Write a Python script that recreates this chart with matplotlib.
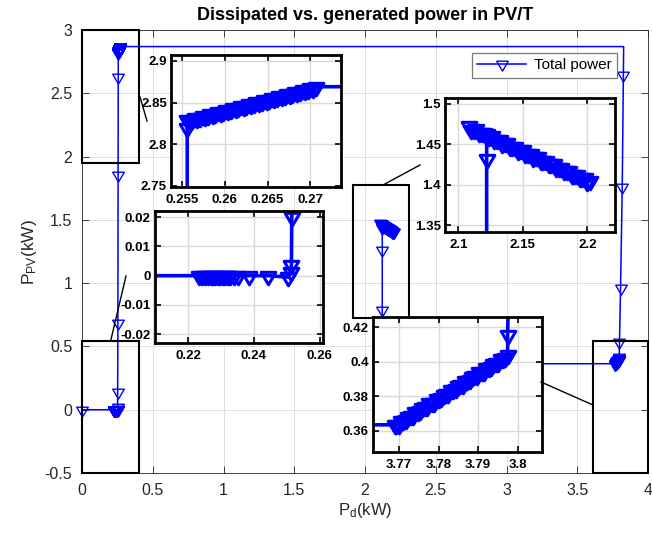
import matplotlib
matplotlib.use("Agg")
import matplotlib.pyplot as plt
from matplotlib.lines import Line2D
from matplotlib.patches import Rectangle
from matplotlib.path import Path
from matplotlib.markers import MarkerStyle

plt.rcParams['font.family'] = ['Liberation Sans', 'DejaVu Sans']
plt.rcParams['mathtext.default'] = 'regular'

# ---- operating-point trajectory: dissipated power Pd (kW) vs PV power Ppv (kW) ----
# start-up point and idle plateau at Ppv = 0
x_idle = [0.0, 0.2233, 0.2243, 0.2251, 0.2260, 0.2268, 0.2275, 0.2282, 0.2290, 0.2297,
          0.2305, 0.2312, 0.2320, 0.2327, 0.2340, 0.2352, 0.2386, 0.2444, 0.2505]
y_idle = [0.0, 0.0, 0.0, 0.0, 0.0, 0.0, 0.0, 0.0, 0.0, 0.0,
          0.0, 0.0, 0.0, 0.0, 0.0, 0.0, 0.0, 0.0, -0.0005]
# PV power ramp-up
x_rise = [0.2512, 0.2514, 0.2515, 0.2520, 0.2535, 0.2548, 0.2556, 0.2556]
y_rise = [0.0011, 0.0038, 0.0200, 0.143, 0.683, 1.855, 2.631, 2.819]
# first steady cluster (high PV, low dissipation)
x_top = [0.2556, 0.2559, 0.2562, 0.2565, 0.2568, 0.2571, 0.2574, 0.2577, 0.2580, 0.2583,
         0.2586, 0.2589, 0.2592, 0.2595, 0.2598, 0.2601, 0.2604, 0.2607, 0.2610, 0.2613,
         0.2616, 0.2619, 0.2622, 0.2625, 0.2628, 0.2631, 0.2634, 0.2637, 0.2640, 0.2643,
         0.2646, 0.2649, 0.2652, 0.2655, 0.2658, 0.2661, 0.2664, 0.2667, 0.2670, 0.2673,
         0.2676, 0.2679, 0.2682, 0.2685, 0.2688, 0.2691, 0.2694, 0.2697, 0.2700, 0.2703,
         0.2707]
y_top = [2.8290, 2.8278, 2.8296, 2.8314, 2.8302, 2.8320, 2.8338, 2.8326, 2.8344, 2.8362,
         2.8350, 2.8367, 2.8385, 2.8373, 2.8391, 2.8409, 2.8397, 2.8415, 2.8433, 2.8421,
         2.8439, 2.8457, 2.8445, 2.8463, 2.8481, 2.8469, 2.8487, 2.8505, 2.8493, 2.8511,
         2.8529, 2.8516, 2.8534, 2.8552, 2.8540, 2.8558, 2.8576, 2.8564, 2.8582, 2.8600,
         2.8588, 2.8606, 2.8624, 2.8612, 2.8630, 2.8648, 2.8636, 2.8654, 2.8672, 2.8660,
         2.8690]
# switch to high dissipation (corner point, no marker)
x_jump1 = [3.828]
y_jump1 = [2.869]
x_fall = [3.826, 3.818, 3.806, 3.7985, 3.7975]
y_fall = [2.645, 1.762, 0.960, 0.538, 0.4155]
# second steady cluster (low PV, high dissipation)
x_low = [3.7975, 3.7969, 3.7963, 3.7957, 3.7951, 3.7945, 3.7939, 3.7933, 3.7927, 3.7921,
         3.7915, 3.7909, 3.7903, 3.7897, 3.7891, 3.7885, 3.7879, 3.7873, 3.7867, 3.7861,
         3.7855, 3.7849, 3.7843, 3.7837, 3.7831, 3.7825, 3.7819, 3.7813, 3.7807, 3.7801,
         3.7795, 3.7789, 3.7783, 3.7777, 3.7771, 3.7765, 3.7759, 3.7753, 3.7747, 3.7741,
         3.7735, 3.7729, 3.7723, 3.7717, 3.7711, 3.7705, 3.7699, 3.7693, 3.7690]
y_low = [0.4040, 0.4019, 0.4017, 0.4014, 0.3994, 0.3991, 0.3989, 0.3968, 0.3966, 0.3963,
         0.3943, 0.3940, 0.3938, 0.3917, 0.3915, 0.3912, 0.3892, 0.3889, 0.3887, 0.3866,
         0.3864, 0.3861, 0.3841, 0.3838, 0.3836, 0.3815, 0.3813, 0.3810, 0.3789, 0.3787,
         0.3784, 0.3764, 0.3761, 0.3759, 0.3738, 0.3736, 0.3733, 0.3713, 0.3710, 0.3708,
         0.3687, 0.3685, 0.3682, 0.3662, 0.3659, 0.3657, 0.3636, 0.3634, 0.3635]
# switch to intermediate dissipation (corner point, no marker)
x_jump2 = [2.122]
y_jump2 = [0.3633]
x_recover = [2.122, 2.122, 2.122, 2.122]
y_recover = [0.788, 1.262, 1.432, 1.462]
# final cluster
x_mid = [2.108, 2.110, 2.112, 2.114, 2.116, 2.118, 2.120, 2.122, 2.124, 2.126,
         2.128, 2.130, 2.132, 2.134, 2.136, 2.138, 2.140, 2.142, 2.144, 2.146,
         2.148, 2.150, 2.152, 2.154, 2.156, 2.158, 2.160, 2.162, 2.164, 2.166,
         2.168, 2.170, 2.172, 2.174, 2.176, 2.178, 2.180, 2.182, 2.184, 2.186,
         2.188, 2.190, 2.192, 2.194, 2.196, 2.198, 2.200, 2.202]
y_mid = [1.4725, 1.4681, 1.4681, 1.4682, 1.4638, 1.4638, 1.4639, 1.4594, 1.4595, 1.4596,
         1.4551, 1.4552, 1.4553, 1.4508, 1.4509, 1.4510, 1.4465, 1.4466, 1.4467, 1.4422,
         1.4423, 1.4423, 1.4379, 1.4380, 1.4380, 1.4336, 1.4337, 1.4337, 1.4293, 1.4294,
         1.4294, 1.4250, 1.4251, 1.4251, 1.4207, 1.4207, 1.4208, 1.4164, 1.4164, 1.4165,
         1.4121, 1.4121, 1.4122, 1.4078, 1.4078, 1.4079, 1.4035, 1.4050]

segments = [(x_idle, y_idle, True), (x_rise, y_rise, True), (x_top, y_top, True),
            (x_jump1, y_jump1, False), (x_fall, y_fall, True), (x_low, y_low, True),
            (x_jump2, y_jump2, False), (x_recover, y_recover, True), (x_mid, y_mid, True)]

pd_kw, ppv_kw, marker_idx = [], [], []
for xs, ys, marked in segments:
    for x, y in zip(xs, ys):
        if marked:
            marker_idx.append(len(pd_kw))
        pd_kw.append(x)
        ppv_kw.append(y)

# axis ticks
main_xticks = [0, 0.5, 1, 1.5, 2, 2.5, 3, 3.5, 4]
main_xlabels = ['0', '0.5', '1', '1.5', '2', '2.5', '3', '3.5', '4']
main_yticks = [-0.5, 0, 0.5, 1, 1.5, 2, 2.5, 3]
main_ylabels = ['-0.5', '0', '0.5', '1', '1.5', '2', '2.5', '3']

# zoom windows: (xlim, ylim, xticks, xticklabels, yticks, yticklabels)
zoom_top = ((0.2537, 0.2736), (2.7488, 2.907),
            [0.255, 0.26, 0.265, 0.27], ['0.255', '0.26', '0.265', '0.27'],
            [2.75, 2.8, 2.85, 2.9], ['2.75', '2.8', '2.85', '2.9'])
zoom_idle = ((0.2099, 0.261), (-0.023, 0.0221),
             [0.22, 0.24, 0.26], ['0.22', '0.24', '0.26'],
             [-0.02, -0.01, 0, 0.01, 0.02], ['-0.02', '-0.01', '0', '0.01', '0.02'])
zoom_mid = ((2.0897, 2.2215), (1.3417, 1.507),
            [2.1, 2.15, 2.2], ['2.1', '2.15', '2.2'],
            [1.35, 1.4, 1.45, 1.5], ['1.35', '1.4', '1.45', '1.5'])
zoom_low = ((3.7634, 3.8062), (0.3478, 0.4258),
            [3.77, 3.78, 3.79, 3.8], ['3.77', '3.78', '3.79', '3.8'],
            [0.36, 0.38, 0.4, 0.42], ['0.36', '0.38', '0.4', '0.42'])

# regions highlighted on the main axes: (x0, y0, x1, y1)
box_top = (0.0, 1.947, 0.4, 3.0)
box_idle = (0.0, -0.5, 0.4, 0.546)
box_mid = (1.915, 0.725, 2.311, 1.776)
box_low = (3.61, -0.5, 4.0, 0.545)

W, H = 652, 535
fig = plt.figure(figsize=(W / 100, H / 100), dpi=100)
fig.patch.set_facecolor('white')

# downward triangle centred on its centroid
tri_path = Path([(-0.88, 0.5), (0.88, 0.5), (0.0, -1.0), (-0.88, 0.5)],
                [Path.MOVETO, Path.LINETO, Path.LINETO, Path.CLOSEPOLY])
tri = MarkerStyle(tri_path, joinstyle='miter')

BLUE = (0, 0, 1)
DARK = '#262626'


def px_axes(left, top, right, bottom, **kw):
    return fig.add_axes([left / W, (H - bottom) / H, (right - left) / W, (bottom - top) / H], **kw)


def draw_curve(ax, lw, ms, mew, clip=True):
    return ax.plot(pd_kw, ppv_kw, color=BLUE, lw=lw, marker=tri, ms=ms, mfc='none',
                   mec=BLUE, mew=mew, markevery=marker_idx, label='Total power',
                   clip_on=clip)[0]


# ---- main axes ----
ax = px_axes(82, 30, 648, 473)
draw_curve(ax, 1.1, 9.5, 1.0, clip=False)
ax.set_xlim(0, 4)
ax.set_ylim(-0.5, 3)
ax.set_xticks(main_xticks)
ax.set_xticklabels(main_xlabels)
ax.set_yticks(main_yticks)
ax.set_yticklabels(main_ylabels)
ax.grid(True, color='#dedede', lw=0.7)
ax.set_axisbelow(True)
ax.tick_params(direction='in', length=5, width=0.6, color=DARK, labelsize=11.5,
               labelcolor=DARK, top=True, right=True, pad=7)
for s in ax.spines.values():
    s.set_color(DARK)
    s.set_linewidth(0.6)
ax.set_xlabel('P$_{d}$(kW)', fontsize=12, color=DARK, labelpad=2)
ax.set_ylabel('P$_{PV}$(kW)', fontsize=12.5, color=DARK, labelpad=4)
ax.set_title('Dissipated vs. generated power in PV/T', fontsize=13, fontweight='bold', pad=7)

for x0, y0, x1, y1 in (box_top, box_idle, box_mid, box_low):
    ax.add_patch(Rectangle((x0, y0), x1 - x0, y1 - y0, fill=False, ec='black', lw=1.5,
                           zorder=5, clip_on=False))

leg = ax.legend(loc='upper right', bbox_to_anchor=(0.945, 0.948), borderaxespad=0,
                fontsize=11, handlelength=3.2, handletextpad=0.5, borderpad=0.35,
                fancybox=False, framealpha=1, edgecolor='#7a7a7a')
leg.get_frame().set_linewidth(0.9)

# connector lines between highlighted regions and their zoom panels (figure pixels)
connectors = [((140, 97), (147, 121)), ((110.7, 340.7), (126, 276)),
              ((383, 185), (420, 165)), ((541, 382), (593, 405))]
for (xa, ya), (xb, yb) in connectors:
    fig.add_artist(Line2D([xa / W, xb / W], [(H - ya) / H, (H - yb) / H],
                          color='black', lw=1.0, zorder=10))


# ---- zoom panels ----
def zoom_panel(rect, spec):
    xlim, ylim, xt, xtl, yt, ytl = spec
    a = px_axes(*rect, zorder=6)
    a.set_facecolor('white')
    draw_curve(a, 2.6, 12, 2.2)
    a.set_xlim(*xlim)
    a.set_ylim(*ylim)
    a.set_xticks(xt)
    a.set_xticklabels(xtl)
    a.set_yticks(yt)
    a.set_yticklabels(ytl)
    a.grid(True, color='#d9d9d9', lw=1.0)
    a.set_axisbelow(True)
    a.tick_params(direction='in', length=4, width=1.2, color='black', labelsize=9.5,
                  top=True, right=True, pad=3)
    a.tick_params(axis='x', pad=5)
    for lab in a.get_xticklabels() + a.get_yticklabels():
        lab.set_fontweight('bold')
    for s in a.spines.values():
        s.set_color('black')
        s.set_linewidth(2.0)
    return a


zoom_panel((171, 55, 341, 187), zoom_top)
zoom_panel((155, 211, 323, 343), zoom_idle)
zoom_panel((445, 98, 615, 232), zoom_mid)
zoom_panel((373, 317, 542, 452), zoom_low)

fig.savefig('out.png', dpi=100, facecolor='white')
